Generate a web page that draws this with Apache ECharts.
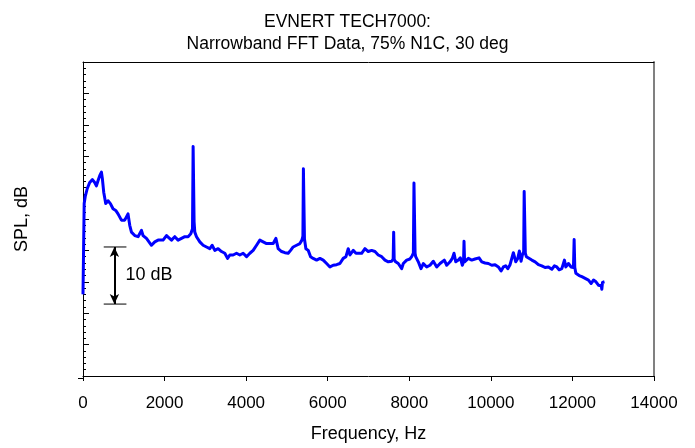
<!DOCTYPE html>
<html>
<head>
<meta charset="utf-8">
<script src="https://cdn.jsdelivr.net/npm/echarts@6/dist/echarts.min.js"></script>
<style>
html,body{margin:0;padding:0;background:#fff;}
#chart{width:695px;height:448px;}
</style>
</head>
<body>
<div id="chart"></div>
<script>
// ---- Data ----
var titleLines = ['EVNERT TECH7000:', 'Narrowband FFT Data, 75% N1C, 30 deg'];
var xAxisTitle = 'Frequency, Hz';
var yAxisTitle = 'SPL, dB';
var xTicks = [0, 2000, 4000, 6000, 8000, 10000, 12000, 14000];

var freqHz = [
  0, 29, 54, 103, 164, 231, 287, 329, 368, 410, 452, 476, 508, 557, 614, 672, 736, 802, 859, 942,
  1023, 1065, 1104, 1146, 1188, 1269, 1350, 1433, 1472, 1556, 1595, 1679, 1760, 1841, 1882, 1963,
  2047, 2086, 2169, 2250, 2331, 2415, 2496, 2577, 2643, 2685, 2700, 2712, 2724, 2741, 2783, 2864,
  2945, 3028, 3109, 3166, 3232, 3313, 3396, 3477, 3544, 3600, 3681, 3764, 3845, 3926, 4010, 4091,
  4172, 4255, 4336, 4417, 4501, 4582, 4663, 4729, 4785, 4869, 4950, 5031, 5090, 5153, 5237, 5318,
  5367, 5392, 5404, 5416, 5430, 5465, 5522, 5580, 5644, 5728, 5809, 5890, 5973, 6054, 6135, 6218,
  6299, 6380, 6447, 6503, 6545, 6626, 6692, 6749, 6832, 6913, 6994, 7077, 7158, 7239, 7323, 7404,
  7485, 7568, 7605, 7617, 7630, 7666, 7730, 7814, 7853, 7936, 8017, 8059, 8100, 8115, 8128, 8142,
  8157, 8221, 8287, 8344, 8427, 8508, 8589, 8673, 8754, 8859, 8918, 8999, 9055, 9097, 9139, 9203,
  9252, 9301, 9330, 9342, 9356, 9384, 9448, 9531, 9612, 9710, 9777, 9858, 9939, 10022, 10103, 10184,
  10250, 10307, 10365, 10415, 10471, 10513, 10552, 10611, 10660, 10699, 10741, 10773, 10805, 10817, 10830, 10845,
  10871, 10920, 11004, 11085, 11166, 11249, 11330, 11411, 11495, 11558, 11617, 11674, 11740, 11804, 11838, 11902,
  11968, 12025, 12042, 12058, 12084, 12165, 12231, 12312, 12393, 12459, 12516, 12577, 12638, 12704, 12721, 12737,
  12786
];
var splDb = [
  14.3, 30.2, 31.4, 32.8, 33.9, 34.4, 33.9, 33.3, 34.2, 35.1, 35.7, 34.5, 32.2, 30.2, 30.7, 30.2, 29.3, 29.0, 28.4, 27.3,
  27.3, 27.6, 28.4, 26.4, 25.2, 24.6, 24.4, 25.5, 24.6, 24.1, 24.1, 22.9, 23.5, 23.8, 24.1, 23.8,
  24.6, 24.4, 23.8, 24.4, 23.8, 24.1, 24.4, 24.4, 24.9, 25.8, 40.2, 40.0, 27.0, 25.2, 24.4, 23.5,
  22.9, 22.6, 22.3, 22.9, 22.0, 22.3, 21.8, 21.5, 20.6, 21.2, 21.2, 21.5, 21.2, 21.5, 20.9, 21.5,
  22.0, 22.9, 23.8, 23.5, 23.2, 23.2, 23.2, 24.1, 22.3, 21.8, 21.6, 21.5, 22.0, 22.6, 22.9, 23.2,
  23.8, 24.5, 36.3, 36.0, 24.0, 22.3, 22.0, 20.9, 20.6, 20.3, 20.6, 20.3, 19.7, 19.1, 19.4, 19.5,
  19.7, 20.6, 20.9, 22.3, 21.2, 22.0, 21.5, 21.5, 21.5, 22.3, 21.8, 22.0, 21.8, 21.2, 20.9, 20.3,
  20.0, 20.1, 20.5, 25.2, 20.4, 20.0, 19.7, 18.8, 19.7, 20.3, 20.5, 20.9, 21.5, 33.8, 33.6, 21.5,
  20.9, 20.0, 18.8, 19.7, 19.1, 19.4, 20.1, 19.1, 19.7, 20.3, 19.4, 20.0, 20.6, 21.5, 20.0, 20.3,
  20.7, 19.4, 20.0, 23.6, 20.0, 19.7, 20.6, 20.3, 20.5, 20.7, 20.0, 19.8, 19.7, 19.4, 19.5, 19.1,
  18.4, 19.1, 19.3, 18.8, 19.5, 19.7, 21.6, 20.0, 20.6, 21.9, 20.1, 21.2, 21.8, 32.3, 32.1, 21.5,
  20.9, 20.6, 20.3, 20.0, 19.5, 19.3, 19.0, 19.1, 18.7, 19.3, 19.1, 18.6, 18.8, 20.3, 19.1, 19.7,
  19.1, 19.0, 23.9, 19.0, 18.0, 17.6, 17.4, 17.1, 16.8, 16.2, 16.8, 16.5, 15.9, 15.8, 15.2, 16.4,
  16.5
];

// 10 dB scale bar annotation (data coordinates)
var scaleBarFreq = [508, 1065];
var scaleBarArrowFreq = 770;
var scaleBarDb = [12.6, 22.6];
var scaleBarLabel = '10 dB';
var scaleBarLabelPos = [1040, 17.6];

// ---- Chart ----
var FONT = 'Liberation Sans, Arial, sans-serif';
var lineData = freqHz.map(function (f, i) { return [f, splDb[i]]; });

var chart = echarts.init(document.getElementById('chart'), null, {renderer: 'canvas'});
chart.setOption({
  animation: false,
  backgroundColor: '#ffffff',
  title: {
    text: titleLines.join('\n'),
    left: 'center',
    top: 6,
    textStyle: {fontFamily: FONT, fontSize: 17.5, fontWeight: 'normal', color: '#000', lineHeight: 22}
  },
  grid: {left: 83, right: 41, top: 62, bottom: 70, containLabel: false},
  graphic: [{
    type: 'line', silent: true,
    shape: {x1: 78, y1: 378.5, x2: 84, y2: 378.5},
    style: {stroke: '#000', lineWidth: 1}
  }],
  xAxis: [{
    type: 'value', min: 0, max: 14000, interval: 2000, position: 'bottom',
    axisLine: {show: true, onZero: false, lineStyle: {color: '#000', width: 1}},
    axisTick: {show: true, inside: false, length: 5, lineStyle: {color: '#000'}},
    axisLabel: {show: true, fontFamily: FONT, fontSize: 17, color: '#000', margin: 19,
      formatter: function (v) { return xTicks.indexOf(v) >= 0 ? String(v) : ''; }},
    splitLine: {show: false},
    name: xAxisTitle, nameLocation: 'middle', nameGap: 49,
    nameTextStyle: {fontFamily: FONT, fontSize: 18, color: '#000'}
  }, {
    type: 'value', min: 0, max: 14000, interval: 2000, position: 'top',
    axisLine: {show: true, onZero: false, lineStyle: {color: '#000', width: 1}},
    axisTick: {show: false}, axisLabel: {show: false}, splitLine: {show: false}
  }],
  yAxis: [{
    type: 'value', min: 0, max: 55, interval: 5.5, position: 'left',
    axisLine: {show: true, onZero: false, lineStyle: {color: '#000', width: 1}},
    axisTick: {show: true, inside: true, length: 6, lineStyle: {color: '#000'}},
    minorTick: {show: true, splitNumber: 5, length: 3, lineStyle: {color: '#000'}},
    axisLabel: {show: false},
    splitLine: {show: false}, minorSplitLine: {show: false},
    name: yAxisTitle, nameLocation: 'middle', nameGap: 52, nameRotate: 90,
    nameTextStyle: {fontFamily: FONT, fontSize: 18, color: '#000'}
  }, {
    type: 'value', min: 0, max: 55, interval: 5.5, position: 'right',
    axisLine: {show: true, onZero: false, lineStyle: {color: '#808080', width: 2}},
    axisTick: {show: false}, axisLabel: {show: false}, splitLine: {show: false}
  }],
  series: [{
    type: 'line',
    data: lineData,
    showSymbol: false,
    symbol: 'none',
    smooth: false,
    lineStyle: {color: '#0000ff', width: 3, join: 'round'},
    z: 5,
    silent: true
  }, {
    type: 'line',
    data: [[scaleBarFreq[0], scaleBarDb[1]], [scaleBarFreq[1], scaleBarDb[1]]],
    symbol: 'none', lineStyle: {color: '#000', width: 1}, silent: true
  }, {
    type: 'line',
    data: [[scaleBarFreq[0], scaleBarDb[0]], [scaleBarFreq[1], scaleBarDb[0]]],
    symbol: 'none', lineStyle: {color: '#000', width: 1}, silent: true,
    markLine: {
      silent: true,
      symbol: ['arrow', 'arrow'],
      symbolSize: [7, 10],
      lineStyle: {color: '#000', width: 2, type: 'solid'},
      label: {show: false},
      data: [[{coord: [scaleBarArrowFreq, scaleBarDb[0]]}, {coord: [scaleBarArrowFreq, scaleBarDb[1]]}]]
    }
  }, {
    type: 'scatter',
    data: [scaleBarLabelPos],
    symbolSize: 0,
    silent: true,
    itemStyle: {opacity: 1, color: '#000'},
    label: {show: true, position: 'right', distance: 0, formatter: scaleBarLabel,
      fontFamily: FONT, fontSize: 18, color: '#000', opacity: 1}
  }]
});
</script>
</body>
</html>
